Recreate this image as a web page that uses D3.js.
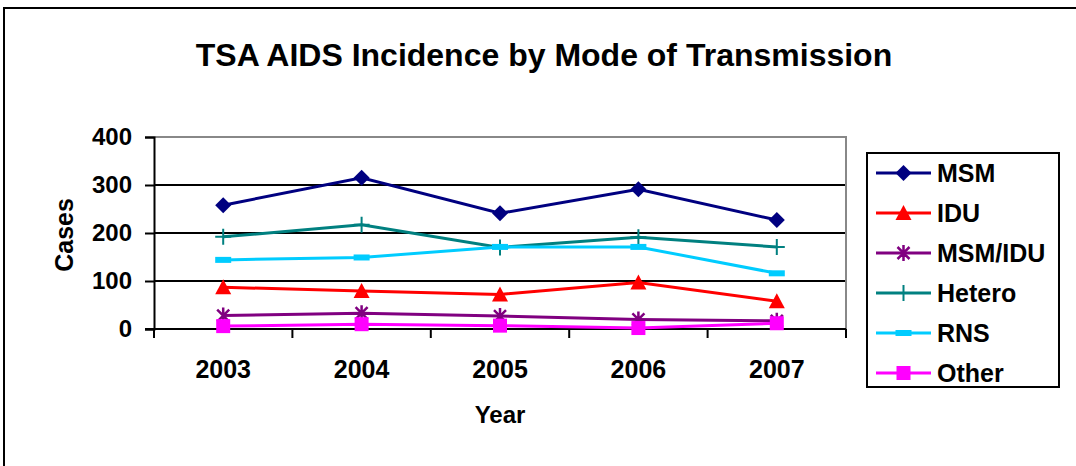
<!DOCTYPE html>
<meta charset="utf-8">
<style>
body { margin: 0; background: #fff; }
text { font-family: Arial, "Liberation Sans", sans-serif; font-weight: bold; fill: #000; }
.line { fill: none; stroke-width: 3px; }
</style>
<body>
<script src="https://d3js.org/d3.v7.min.js"></script>
<script>

// data
var years = ["2003", "2004", "2005", "2006", "2007"];
var yTicks = [0, 100, 200, 300, 400];
var msm    = [258, 315, 241, 291, 227];
var idu    = [87, 79, 72, 97, 58];
var msmIdu = [28, 33, 27, 20, 17];
var hetero = [192, 217, 170, 191, 171];
var rns    = [144, 149, 171, 171, 116];
var other  = [6, 10, 7, 2, 12];

var series = [
  {name: "MSM",     values: msm,    color: "#000080", marker: "diamond"},
  {name: "IDU",     values: idu,    color: "#FF0000", marker: "triangle"},
  {name: "MSM/IDU", values: msmIdu, color: "#800080", marker: "star"},
  {name: "Hetero",  values: hetero, color: "#008080", marker: "plus"},
  {name: "RNS",     values: rns,    color: "#00CCFF", marker: "dash"},
  {name: "Other",   values: other,  color: "#FF00FF", marker: "square"}
];

var W = 1076, H = 466;
var plot = {left: 154, right: 846, top: 137, bottom: 329};

var svg = d3.select("body").append("svg")
    .attr("width", W)
    .attr("height", H);

// outer chart frame (right and bottom run off the picture)
svg.append("rect")
    .attr("x", 4).attr("y", 8)
    .attr("width", 1200).attr("height", 600)
    .attr("fill", "#fff")
    .attr("stroke", "#000").attr("stroke-width", 2);

var x = d3.scaleBand().domain(years).range([plot.left, plot.right]);
var y = d3.scaleLinear().domain([0, 400]).range([plot.bottom, plot.top]);

// gridlines
svg.append("g")
  .selectAll("line")
  .data(yTicks.filter(function(d) { return d > 0 && d < 400; }))
  .enter().append("line")
    .attr("x1", plot.left).attr("x2", plot.right)
    .attr("y1", function(d) { return y(d); })
    .attr("y2", function(d) { return y(d); })
    .attr("stroke", "#000").attr("stroke-width", 2);

// grey plot border (top + right)
svg.append("path")
    .attr("d", "M" + plot.left + "," + y(400) + "H" + plot.right + "V" + plot.bottom)
    .attr("fill", "none")
    .attr("stroke", "#888").attr("stroke-width", 2);

// y axis
var yAxis = svg.append("g")
    .attr("transform", "translate(" + plot.left + ",0)")
    .call(d3.axisLeft(y).tickValues(yTicks).tickSize(9).tickPadding(13));
yAxis.select(".domain").attr("stroke", "#000").attr("stroke-width", 2);
yAxis.selectAll(".tick line").attr("stroke", "#000").attr("stroke-width", 2);
yAxis.selectAll(".tick text")
    .style("font-size", "24px").style("font-family", "Arial, 'Liberation Sans', sans-serif")
    .style("font-weight", "bold").attr("fill", "#000");

// x axis, ticks sit between categories
var xAxis = svg.append("g")
    .attr("transform", "translate(0," + plot.bottom + ")");
xAxis.append("line")
    .attr("x1", plot.left - 9).attr("x2", plot.right)
    .attr("stroke", "#000").attr("stroke-width", 2);
xAxis.selectAll(".sep")
  .data(years.map(function(d) { return x(d); }).concat([plot.right]))
  .enter().append("line")
    .attr("x1", function(d) { return d; }).attr("x2", function(d) { return d; })
    .attr("y1", 0).attr("y2", 9)
    .attr("stroke", "#000").attr("stroke-width", 2);
xAxis.selectAll(".lab")
  .data(years)
  .enter().append("text")
    .attr("x", function(d) { return x(d) + x.bandwidth() / 2; })
    .attr("y", 49)
    .attr("text-anchor", "middle")
    .style("font-size", "25px")
    .text(function(d) { return d; });

// markers
function drawMarker(g, type, color) {
  if (type == "diamond") {
    g.append("path").attr("d", "M0,-8L8,0L0,8L-8,0Z").attr("fill", color);
  } else if (type == "triangle") {
    g.append("path").attr("d", "M0,-8L8,7L-8,7Z").attr("fill", color);
  } else if (type == "star") {
    g.append("path").attr("d", "M-6,-6L6,6M-6,6L6,-6M0,-8V8")
      .attr("stroke", color).attr("stroke-width", 2.5).attr("fill", "none");
  } else if (type == "plus") {
    g.append("path").attr("d", "M-8,0H8M0,-8V8")
      .attr("stroke", color).attr("stroke-width", 2).attr("fill", "none");
  } else if (type == "dash") {
    g.append("rect").attr("x", -8).attr("y", -3).attr("width", 16).attr("height", 6).attr("fill", color);
  } else if (type == "square") {
    g.append("rect").attr("x", -7).attr("y", -7).attr("width", 14).attr("height", 14).attr("fill", color);
  }
}

var line = d3.line()
    .x(function(d, i) { return x(years[i]) + x.bandwidth() / 2; })
    .y(function(d) { return y(d); });

series.forEach(function(s) {
  svg.append("path")
      .datum(s.values)
      .attr("class", "line")
      .style("stroke", s.color)
      .attr("d", line);
  s.values.forEach(function(v, i) {
    var g = svg.append("g")
        .attr("transform", "translate(" + (x(years[i]) + x.bandwidth() / 2) + "," + y(v) + ")");
    drawMarker(g, s.marker, s.color);
  });
});

// title
svg.append("text")
    .attr("x", 544).attr("y", 66)
    .attr("text-anchor", "middle")
    .style("font-size", "32px")
    .text("TSA AIDS Incidence by Mode of Transmission");

// axis titles
svg.append("text")
    .attr("x", 500).attr("y", 423)
    .attr("text-anchor", "middle")
    .style("font-size", "24px")
    .text("Year");

svg.append("text")
    .attr("transform", "translate(73,235) rotate(-90)")
    .attr("text-anchor", "middle")
    .style("font-size", "25px")
    .text("Cases");

// legend
var legend = svg.append("g");
legend.append("rect")
    .attr("x", 867).attr("y", 153)
    .attr("width", 192).attr("height", 234)
    .attr("fill", "#fff")
    .attr("stroke", "#000").attr("stroke-width", 2);

series.forEach(function(s, i) {
  var cy = 173 + i * 40;
  var g = legend.append("g").attr("transform", "translate(0," + cy + ")");
  g.append("line")
      .attr("x1", 876).attr("x2", 931)
      .attr("stroke", s.color).attr("stroke-width", 3);
  var m = g.append("g").attr("transform", "translate(903.5,0)");
  drawMarker(m, s.marker, s.color);
  g.append("text")
      .attr("x", 937).attr("y", 0).attr("dy", "0.36em")
      .style("font-size", "25px")
      .text(s.name);
});

</script>
</body>
